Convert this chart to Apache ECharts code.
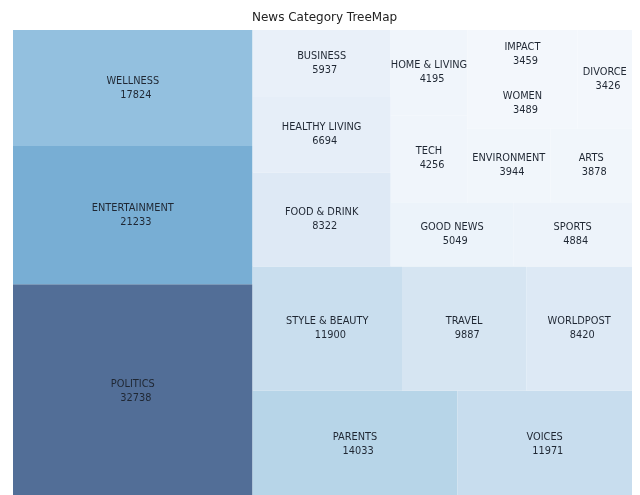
<!DOCTYPE html>
<html>
<head>
<meta charset="utf-8">
<script src="https://cdn.jsdelivr.net/npm/echarts@6/dist/echarts.min.js"></script>
<style>
  html, body { margin: 0; padding: 0; background: #fff; }
  #container { width: 640px; height: 495px; }
</style>
</head>
<body>
<div id="container"></div>
<script>
var categories = ['POLITICS', 'ENTERTAINMENT', 'WELLNESS', 'PARENTS', 'VOICES',
  'STYLE & BEAUTY', 'TRAVEL', 'WORLDPOST', 'FOOD & DRINK', 'HEALTHY LIVING',
  'BUSINESS', 'GOOD NEWS', 'SPORTS', 'TECH', 'HOME & LIVING',
  'ENVIRONMENT', 'ARTS', 'WOMEN', 'IMPACT', 'DIVORCE'];
var counts = [32738, 21233, 17824, 14033, 11971,
  11900, 9887, 8420, 8322, 6694,
  5937, 5049, 4884, 4256, 4195,
  3944, 3878, 3489, 3459, 3426];

// Blues colormap, blended at alpha 0.7 over white
var blues = ['#f3f7fc', '#e4edf7', '#d2e2f1', '#b4d4e7', '#90bfde',
  '#74abd2', '#5f97c7', '#5083b6', '#526e97'];

// squarify layout on a 100 x 100 box (y axis going up)
function layout(sizes, x, y, dx, dy) {
  var covered = sizes.reduce(function (a, b) { return a + b; }, 0);
  var rects = [];
  if (dx >= dy) {
    var w = covered / dy;
    sizes.forEach(function (s) { rects.push({x: x, y: y, dx: w, dy: s / w}); y += s / w; });
  } else {
    var h = covered / dx;
    sizes.forEach(function (s) { rects.push({x: x, y: y, dx: s / h, dy: h}); x += s / h; });
  }
  return rects;
}

function worstRatio(sizes, x, y, dx, dy) {
  return Math.max.apply(null, layout(sizes, x, y, dx, dy).map(function (r) {
    return Math.max(r.dx / r.dy, r.dy / r.dx);
  }));
}

function squarify(sizes, x, y, dx, dy) {
  if (sizes.length === 0) return [];
  if (sizes.length === 1) return layout(sizes, x, y, dx, dy);
  var i = 1;
  while (i < sizes.length &&
    worstRatio(sizes.slice(0, i), x, y, dx, dy) >= worstRatio(sizes.slice(0, i + 1), x, y, dx, dy)) {
    i++;
  }
  var current = sizes.slice(0, i);
  var covered = current.reduce(function (a, b) { return a + b; }, 0);
  var nx = x, ny = y, ndx = dx, ndy = dy;
  if (dx >= dy) { nx = x + covered / dy; ndx = dx - covered / dy; }
  else { ny = y + covered / dx; ndy = dy - covered / dx; }
  return layout(current, x, y, dx, dy).concat(squarify(sizes.slice(i), nx, ny, ndx, ndy));
}

var total = counts.reduce(function (a, b) { return a + b; }, 0);
var cells = squarify(counts.map(function (c) { return c * 10000 / total; }), 0, 0, 100, 100);

var seriesData = cells.map(function (r, i) {
  return [r.x, r.y, r.dx, r.dy, counts[i]];
});

var myChart = echarts.init(document.getElementById('container'));

var options = {
  animation: false,
  title: {
    text: 'News Category TreeMap',
    left: 252,
    top: 12,
    padding: 0,
    textStyle: {
      fontFamily: 'DejaVu Sans',
      fontSize: 12,
      fontWeight: 'normal',
      color: '#222'
    }
  },
  // the plot runs a little past the bottom edge of the picture
  grid: { left: 13, top: 30, right: 8, bottom: 0 },
  xAxis: { type: 'value', min: 0, max: 100, show: false },
  yAxis: { type: 'value', min: 0.55, max: 100, show: false },
  visualMap: {
    show: false,
    type: 'continuous',
    seriesIndex: 0,
    dimension: 4,
    min: Math.min.apply(null, counts),
    max: Math.max.apply(null, counts),
    inRange: { color: blues }
  },
  series: [{
    type: 'custom',
    data: seriesData,
    clip: false,
    encode: { x: [0, 2], y: [1, 3] },
    renderItem: function (params, api) {
      var x = api.value(0), y = api.value(1), dx = api.value(2), dy = api.value(3);
      var p0 = api.coord([x, y + dy]);
      var p1 = api.coord([x + dx, y]);
      var i = params.dataIndex;
      return {
        type: 'rect',
        shape: { x: p0[0], y: p0[1], width: p1[0] - p0[0], height: p1[1] - p0[1] },
        style: { fill: api.visual('color') },
        textContent: {
          style: {
            text: categories[i] + '\n  ' + counts[i],
            fill: '#1f2733',
            fontFamily: 'DejaVu Sans',
            fontSize: 9.8,
            lineHeight: 14,
            align: 'center',
            verticalAlign: 'middle'
          }
        },
        textConfig: { position: 'inside' }
      };
    }
  }]
};

myChart.setOption(options);
</script>
</body>
</html>
